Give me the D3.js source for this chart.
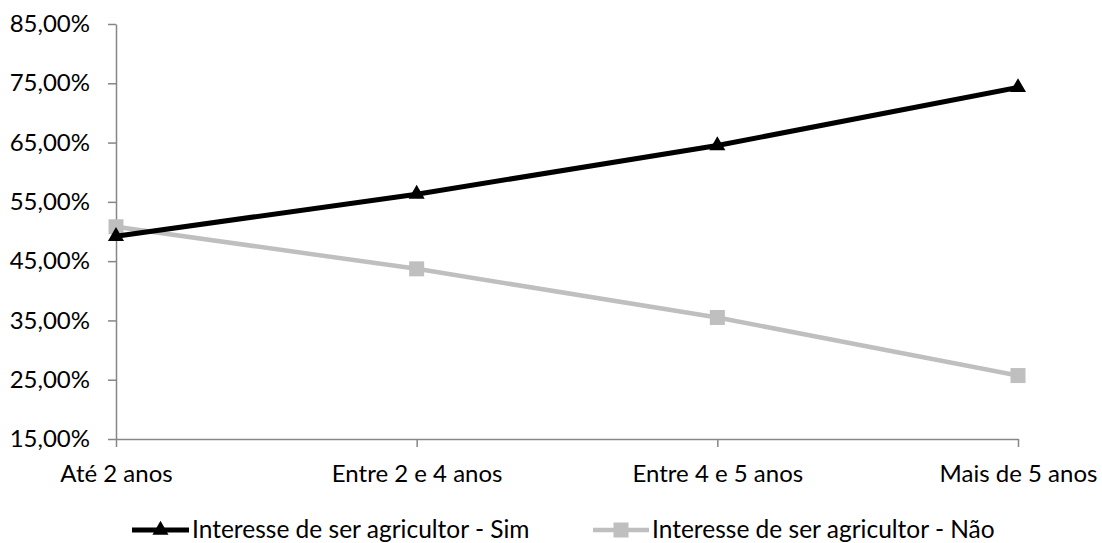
<!DOCTYPE html>
<html>
<head>
<meta charset="utf-8">
<script src="https://cdn.jsdelivr.net/npm/d3@7"></script>
<style>
  html, body { margin: 0; padding: 0; background: #fff; }
  svg { display: block; font-family: Lato, "Open Sans", sans-serif; }
</style>
</head>
<body>
<svg id="chart" width="1102" height="543"></svg>
<script>
// Interest in becoming a farmer, by time period
const categories = ["Até 2 anos", "Entre 2 e 4 anos", "Entre 4 e 5 anos", "Mais de 5 anos"];
const simValues = [49.2, 56.3, 64.5, 74.3];
const naoValues = [50.8, 43.7, 35.5, 25.7];
const yTicks = [15, 25, 35, 45, 55, 65, 75, 85];
const seriesNames = ["Interesse de ser agricultor - Sim", "Interesse de ser agricultor - Não"];

(function () {
  const svg = d3.select("#chart");
  const plotLeft = 116, plotRight = 1018, plotTop = 24, plotBottom = 439;

  const x = d3.scalePoint().domain(categories).range([plotLeft, plotRight]).padding(0);
  const y = d3.scaleLinear().domain([15, 85]).range([plotBottom, plotTop]);

  const fmt = v => v.toFixed(2).replace(".", ",") + "%";
  const axisColor = "#868686";
  const fontSize = 24;

  // Y axis
  const yAxis = svg.append("g")
    .attr("transform", `translate(${plotLeft},0)`)
    .call(d3.axisLeft(y).tickValues(yTicks).tickFormat(fmt).tickSize(8).tickSizeOuter(0));
  yAxis.select(".domain").attr("stroke", axisColor).attr("stroke-width", 1.5);
  yAxis.selectAll(".tick line").attr("stroke", axisColor).attr("stroke-width", 1.5);
  yAxis.selectAll(".tick text")
    .attr("fill", "#000").attr("font-size", fontSize).attr("x", -26)
    .style("font-family", "Lato, sans-serif");

  // X axis
  const xAxis = svg.append("g")
    .attr("transform", `translate(0,${plotBottom})`)
    .call(d3.axisBottom(x).tickSize(8).tickSizeOuter(0));
  xAxis.select(".domain").attr("stroke", axisColor).attr("stroke-width", 1.5);
  xAxis.selectAll(".tick line").attr("stroke", axisColor).attr("stroke-width", 1.5);
  xAxis.selectAll(".tick text")
    .attr("fill", "#000").attr("font-size", fontSize).attr("y", 26)
    .style("font-family", "Lato, sans-serif");

  const series = [
    { name: seriesNames[0], values: simValues, color: "#000000", marker: d3.symbolTriangle, size: 112, width: 5 },
    { name: seriesNames[1], values: naoValues, color: "#BFBFBF", marker: d3.symbolSquare, size: 225, width: 4.5 }
  ];

  const line = d3.line().x((d, i) => x(categories[i])).y(d => y(d));

  // Grey series first so the black one sits on top
  [series[1], series[0]].forEach(s => {
    svg.append("path")
      .datum(s.values)
      .attr("d", line)
      .attr("fill", "none")
      .attr("stroke", s.color)
      .attr("stroke-width", s.width)
      .attr("stroke-linejoin", "round");
    svg.selectAll(null)
      .data(s.values)
      .enter().append("path")
      .attr("d", d3.symbol().type(s.marker).size(s.size))
      .attr("transform", (d, i) => `translate(${x(categories[i])},${y(d)})`)
      .attr("fill", s.color);
  });

  // Legend
  const legendY = 530;
  const legendItems = [
    { s: series[0], x0: 132, x1: 189, xt: 192 },
    { s: series[1], x0: 593, x1: 649, xt: 652 }
  ];
  legendItems.forEach(({ s, x0, x1, xt }) => {
    const g = svg.append("g");
    g.append("line")
      .attr("x1", x0).attr("x2", x1)
      .attr("y1", legendY).attr("y2", legendY)
      .attr("stroke", s.color).attr("stroke-width", s.width);
    g.append("path")
      .attr("d", d3.symbol().type(s.marker).size(s.size))
      .attr("transform", `translate(${(x0 + x1) / 2},${legendY})`)
      .attr("fill", s.color);
    g.append("text")
      .attr("x", xt).attr("y", 538)
      .attr("font-size", 24.5)
      .attr("fill", "#000")
      .text(s.name);
  });
})();
</script>
</body>
</html>
